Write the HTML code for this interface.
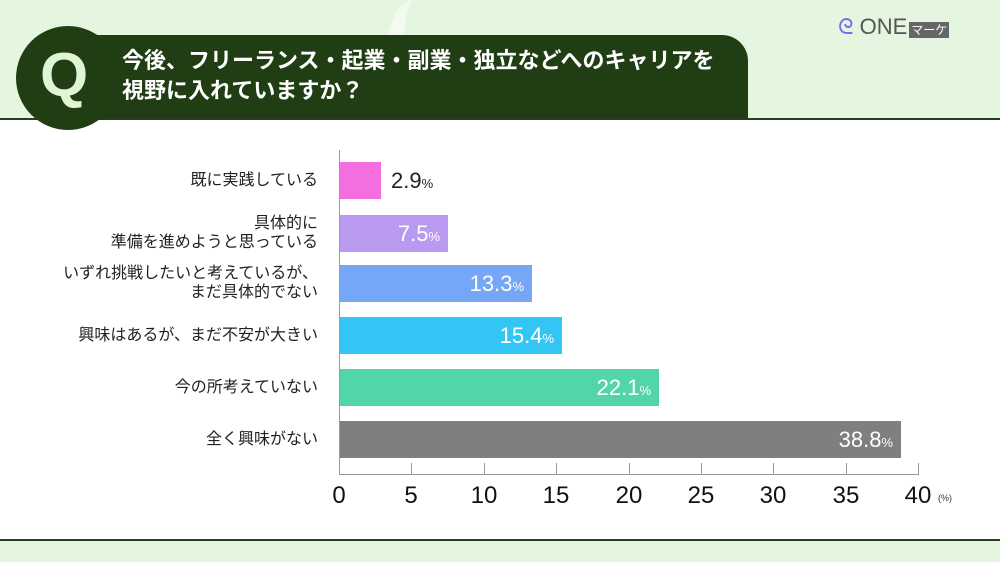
<!DOCTYPE html>
<html><head><meta charset="utf-8"><style>
body{margin:0;width:1000px;height:562px;overflow:hidden;background:#e4f6df;font-family:"Liberation Sans","Noto Sans CJK JP",sans-serif;position:relative}
.abs{position:absolute}
.lbl{position:absolute;right:682px;text-align:right;font-size:16px;color:#222;line-height:19px;white-space:nowrap}
.bar{position:absolute;left:339px;height:37px}
.v{position:absolute;font-size:22px;color:#fff;top:6px;right:8px;white-space:nowrap}
.v small{font-size:13px}
.tk{position:absolute;top:482px;font-size:24px;color:#111;width:40px;margin-left:-20px;text-align:center}
.t{position:absolute;top:463px;width:1px;height:12px;background:#999}
</style></head><body>
<div class="abs" style="left:385px;top:0;width:40px;height:120px;border-left:18px solid #f3fbf1;border-radius:50%"></div>
<div class="abs" style="left:0;top:118px;width:1000px;height:423px;background:#fff;border-top:2px solid #2a3d22;border-bottom:2px solid #2a3d22;box-sizing:border-box"></div>
<div class="abs" style="left:95px;top:35px;width:653px;height:83px;background:#213d14;border-radius:0 26px 0 0"></div>
<div class="abs" style="left:16px;top:26px;width:104px;height:104px;border-radius:50%;background:#213d14"></div>
<div class="abs" style="left:40px;top:40px;font-size:62px;color:#dff5d6;font-weight:bold">Q</div>
<div class="abs" style="left:122px;top:46px;font-size:22px;line-height:30px;color:#fff;font-weight:bold">今後、フリーランス・起業・副業・独立などへのキャリアを<br>視野に入れていますか？</div>
<div class="abs" style="left:838px;top:14px;font-size:22px;color:#555"><span style="color:#7a6cf0">ᘓ</span> ONE<span style="font-size:12px;background:#666;color:#fff;padding:1px 2px;margin-left:2px">マーケ</span></div>

<div class="lbl" style="top:171px">既に実践している</div>
<div class="lbl" style="top:214px">具体的に<br>準備を進めようと思っている</div>
<div class="lbl" style="top:264px">いずれ挑戦したいと考えているが、<br>まだ具体的でない</div>
<div class="lbl" style="top:326px">興味はあるが、まだ不安が大きい</div>
<div class="lbl" style="top:378px">今の所考えていない</div>
<div class="lbl" style="top:430px">全く興味がない</div>

<div class="bar" style="top:162px;width:42px;background:#f46ee0"><span class="v" style="right:auto;left:52px;color:#222">2.9<small>%</small></span></div>
<div class="bar" style="top:215px;width:109px;background:#b99af0"><span class="v">7.5<small>%</small></span></div>
<div class="bar" style="top:265px;width:193px;background:#76a6f6"><span class="v">13.3<small>%</small></span></div>
<div class="bar" style="top:317px;width:223px;background:#33c5f4"><span class="v">15.4<small>%</small></span></div>
<div class="bar" style="top:369px;width:320px;background:#52d6a9"><span class="v">22.1<small>%</small></span></div>
<div class="bar" style="top:421px;width:562px;background:#7f7f7f"><span class="v">38.8<small>%</small></span></div>

<div class="abs" style="left:339px;top:150px;width:1px;height:325px;background:#999"></div>
<div class="abs" style="left:339px;top:474px;width:580px;height:1px;background:#999"></div>
<div class="t" style="left:411px"></div><div class="t" style="left:484px"></div><div class="t" style="left:556px"></div><div class="t" style="left:629px"></div><div class="t" style="left:701px"></div><div class="t" style="left:773px"></div><div class="t" style="left:846px"></div><div class="t" style="left:918px"></div>
<div class="tk" style="left:339px">0</div><div class="tk" style="left:411px">5</div><div class="tk" style="left:484px">10</div><div class="tk" style="left:556px">15</div><div class="tk" style="left:629px">20</div><div class="tk" style="left:701px">25</div><div class="tk" style="left:773px">30</div><div class="tk" style="left:846px">35</div><div class="tk" style="left:918px">40</div>
<div class="abs" style="left:938px;top:493px;font-size:9px;color:#333">(%)</div>
</body></html>
